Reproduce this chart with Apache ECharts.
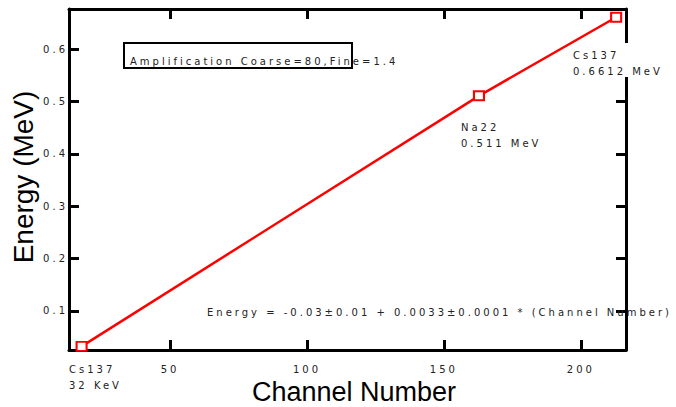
<!DOCTYPE html>
<html>
<head>
<meta charset="utf-8">
<title>Energy calibration</title>
<script src="https://cdn.jsdelivr.net/npm/echarts@6.0.0/dist/echarts.min.js"></script>
<style>
  html, body { margin: 0; padding: 0; background: #fff; }
  #chart { width: 676px; height: 407px; }
  /* the small annotation font is widely letter-spaced in the original */
  #chart text[style*="DejaVu"] { letter-spacing: 3px; }
</style>
</head>
<body>
<div id="chart"></div>
<script>
// calibration peaks
const peakNames = ['Cs137', 'Na22', 'Cs137'];
const peakLabels = ['32 KeV', '0.511 MeV', '0.6612 MeV'];
const channels = [17.7, 162.8, 212.9];
const energies = [0.032, 0.511, 0.6612];

// axis ticks
const xTicks = [50, 100, 150, 200];
const yTicks = [0.1, 0.2, 0.3, 0.4, 0.5, 0.6];

const xTitle = 'Channel Number';
const yTitle = 'Energy (MeV)';
const ampText = 'Amplification Coarse=80,Fine=1.4';
const fitText = 'Energy = -0.03±0.01 + 0.0033±0.0001 * (Channel Number)';

const smallFont = { fontFamily: 'DejaVu Sans', fontSize: 10, fill: '#222' };
const axisLine = { show: true, onZero: false, lineStyle: { color: '#000', width: 3 } };

function tick(values) {
  return { show: true, inside: true, length: 10, customValues: values, lineStyle: { color: '#000', width: 3 } };
}

const chart = echarts.init(document.getElementById('chart'), null, { renderer: 'svg' });

chart.setOption({
  animation: false,
  backgroundColor: '#fff',
  grid: { left: 69, right: 50, top: 9, bottom: 57 },
  xAxis: [
    {
      type: 'value',
      min: 13.1,
      max: 216.5,
      axisLine,
      axisTick: tick(xTicks),
      splitLine: { show: false },
      axisLabel: {
        customValues: xTicks,
        margin: 14,
        color: '#222',
        fontFamily: 'DejaVu Sans',
        fontSize: 10,
      },
    },
    {
      type: 'value',
      position: 'top',
      min: 13.1,
      max: 216.5,
      axisLine,
      axisTick: tick(xTicks),
      splitLine: { show: false },
      axisLabel: { show: false },
    },
  ],
  yAxis: [
    {
      type: 'value',
      min: 0.025,
      max: 0.677,
      axisLine,
      axisTick: tick(yTicks),
      splitLine: { show: false },
      axisLabel: {
        customValues: yTicks,
        margin: 1,
        color: '#222',
        fontFamily: 'DejaVu Sans',
        fontSize: 10,
      },
    },
    {
      type: 'value',
      position: 'right',
      min: 0.025,
      max: 0.677,
      axisLine,
      axisTick: tick(yTicks),
      splitLine: { show: false },
      axisLabel: { show: false },
    },
  ],
  series: [
    {
      type: 'line',
      data: channels.map((c, i) => [c, energies[i]]),
      symbol: 'emptyRect',
      symbolSize: [10, 9],
      showAllSymbol: true,
      lineStyle: { color: '#ff0000', width: 2.5 },
      itemStyle: { color: '#ff0000', borderColor: '#ff0000', borderWidth: 2.5 },
    },
  ],
  graphic: [
    // white patch behind the upper Cs137 note (it hides part of the right axis)
    { type: 'rect', z: 1, shape: { x: 574, y: 43, width: 92, height: 34 }, style: { fill: '#fff' } },
    { type: 'rect', z: 5, shape: { x: 124, y: 43, width: 228, height: 25 }, style: { fill: 'none', stroke: '#000', lineWidth: 2 } },
    { type: 'text', z: 5, x: 130, y: 61, style: { ...smallFont, text: ampText, verticalAlign: 'middle' } },
    { type: 'text', z: 5, x: 207, y: 312, style: { ...smallFont, text: fitText, verticalAlign: 'middle' } },
    { type: 'text', z: 5, x: 69, y: 361, style: { ...smallFont, lineHeight: 16, text: peakNames[0] + '\n' + peakLabels[0] } },
    { type: 'text', z: 5, x: 461, y: 119, style: { ...smallFont, lineHeight: 16, text: peakNames[1] + '\n' + peakLabels[1] } },
    { type: 'text', z: 5, x: 573, y: 47, style: { ...smallFont, lineHeight: 16, text: peakNames[2] + '\n' + peakLabels[2] } },
    {
      type: 'text', z: 5, x: 354, y: 392,
      style: { text: xTitle, fontFamily: 'Liberation Sans', fontSize: 27, fill: '#000', align: 'center', verticalAlign: 'middle' },
    },
    {
      type: 'text', z: 5, x: 23, y: 177, rotation: Math.PI / 2,
      style: { text: yTitle, fontFamily: 'Liberation Sans', fontSize: 28, fill: '#000', align: 'center', verticalAlign: 'middle' },
    },
  ],
});
</script>
</body>
</html>
